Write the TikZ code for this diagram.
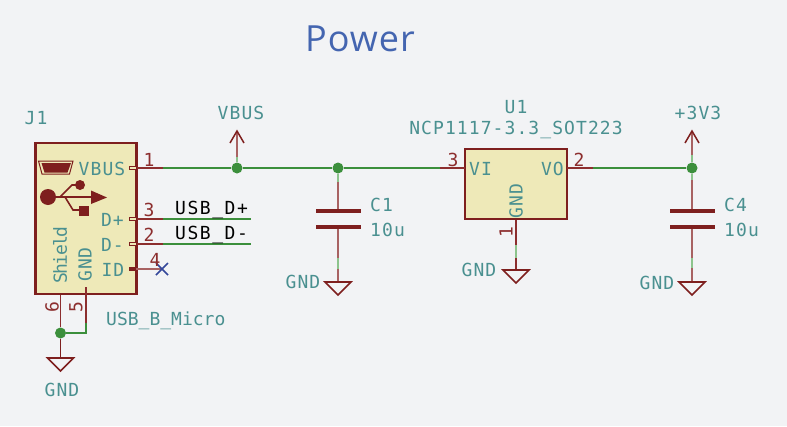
\documentclass[tikz,border=0pt]{standalone}
\usepackage{fontspec}
\setmainfont{DejaVu Sans Mono}
\newfontfamily\kifont[LetterSpace=6]{DejaVu Sans Mono}
\newfontfamily\titlefont[LetterSpace=3]{Open Sans}
\definecolor{bgc}{HTML}{F2F3F5}
\definecolor{partc}{HTML}{7E1F1E}
\definecolor{pinc}{HTML}{8C2E2E}
\definecolor{stemc}{HTML}{A86262}
\definecolor{fillc}{HTML}{EEE9B8}
\definecolor{wirec}{HTML}{3C8F3C}
\definecolor{lwirec}{HTML}{8CC48C}
\definecolor{textc}{HTML}{4A9090}
\definecolor{titlec}{HTML}{4465B0}
\definecolor{ncc}{HTML}{34479A}
\tikzset{
  lbl/.style={inner sep=0pt,text=textc,font=\fontsize{18}{19}\kifont},
  num/.style={inner sep=0pt,text=pinc,font=\fontsize{18}{19}\kifont},
  netl/.style={inner sep=0pt,text=black,font=\fontsize{18}{19}\kifont\addfontfeature{LetterSpace=8.5}},
  body/.style={draw=partc,line width=2.4pt,fill=fillc,inner sep=0pt},
  wire/.style={draw=wirec,line width=1.2pt},
  lwire/.style={draw=lwirec,line width=1.6pt},
  pinl/.style={draw=pinc,line width=1.3pt},
  stem/.style={draw=stemc,line width=1.6pt},
  powl/.style={draw=partc,line width=1.5pt},
  dot/.style={circle,fill=wirec,inner sep=0pt,minimum size=11pt},
  plate/.style={draw=partc,line width=4pt},
  gndt/.style={draw=partc,line width=1.6pt,line join=miter},
  pend/.style={draw=partc,line width=1pt,fill=fillc,inner sep=0pt,minimum width=7pt,minimum height=3.5pt}
}
\begin{document}
\begin{tikzpicture}[x=1pt,y=-1pt]
\useasboundingbox (0,0) rectangle (787,426);
\fill[bgc] (0,0) rectangle (787,426);
\node[inner sep=0pt,text=titlec,font=\fontsize{36}{37}\titlefont] (title) at (360,39) {Power};

% nets
\coordinate (vbusa) at (163,168);
\coordinate (vi) at (440,168);
\coordinate (vo) at (593,168);
\node[dot] (j1) at (237,168) {};
\node[dot] (j2) at (338,168) {};
\node[dot] (j3) at (692,168) {};
\node[dot] (j4) at (60.5,333) {};
\coordinate (dpa) at (163,219);
\coordinate (dpb) at (251,219);
\coordinate (dma) at (163,244);
\coordinate (dmb) at (251,244);
\draw[wire] (vbusa) -- (j1) -- (j2) -- (vi);
\draw[wire] (vo) -- (j3);
\draw[wire,line width=1.6pt] (dpa) -- (dpb);
\draw[wire,line width=1.6pt] (dma) -- (dmb);

% J1
\node[body,minimum width=101pt,minimum height=151pt] (J) at (86,218.5) {};
\draw[pinl,line width=1.4pt] (136,168) -- (vbusa);
\draw[pinl,line width=2pt] (136,219) -- (dpa);
\draw[pinl,line width=2pt] (136,244) -- (dma);
\coordinate (idp) at (136,269);
\coordinate (nc) at (162,269);
\draw[stem] (idp) -- (nc);
\node[pend] at (132.5,168) {};
\node[pend] at (132.5,219) {};
\node[pend] at (132.5,244) {};
\draw[partc,line width=3.2pt] (129,269) -- (136,269);
\draw[ncc,line width=1.5pt] (156,263) -- (168,275) (156,275) -- (168,263);
\node[lbl,anchor=east] (t1) at (125.5,168.5) {VBUS};
\node[lbl,anchor=east] (t2) at (124,219.5) {D+};
\node[lbl,anchor=east] (t3) at (124,244.5) {D-};
\node[lbl,anchor=east] (t4) at (124.5,269.5) {ID};
\node[lbl,rotate=90,font=\fontsize{18}{19}\kifont\addfontfeature{LetterSpace=-9}] (t5) at (60,255) {Shield};
\node[lbl,rotate=90] (t6) at (85,264.5) {GND};
\node[num] (n1) at (149,160) {1};
\node[num] (n2) at (149,210) {3};
\node[num] (n3) at (149,235) {2};
\node[num] (n4) at (155,260) {4};
\node[num,rotate=90] (n5) at (52,307) {6};
\node[num,rotate=90] (n6) at (76,307) {5};
\node[lbl] (jn) at (36,118) {J1};
\node[lbl,anchor=west,font=\fontsize{18}{19}\kifont\addfontfeature{LetterSpace=0}] (jv) at (106,321) {USB\_B\_Micro};
\node[netl,anchor=west] (ndp) at (175,210) {USB\_D+};
\node[netl,anchor=west] (ndm) at (175,235) {USB\_D-};
% USB icon
\fill[partc] (41.5,163) -- (71,163) -- (67.5,172.5) -- (44.5,172.5) -- cycle;
\draw[partc,line width=1pt] (38.5,161) -- (73,161) -- (69.5,174) -- (42,174) -- cycle;
\fill[partc] (48,197) circle (8pt);
\draw[partc,line width=1.5pt] (48,197) -- (93,197);
\fill[partc] (91,190.5) -- (107,197.5) -- (91,204) -- cycle;
\draw[partc,line width=1.6pt] (60,197) -- (72,185) -- (80,185);
\draw[partc,line width=1.6pt] (65,197) -- (73,210) -- (81,210);
\fill[partc] (80,185) circle (5pt);
\fill[partc] (79,206) rectangle (89,216);
% J1 lower pins
\coordinate (sh) at (60.5,295);
\coordinate (gp) at (86,287);
\coordinate (gk) at (86,323);
\coordinate (gc) at (86,333);
\coordinate (gnda) at (60.5,358);
\draw[pinl,line width=1.5pt] (sh) -- (j4);
\draw[pinl,line width=1.5pt] (gp) -- (gk);
\draw[wire] (gk) -- (gc) -- (j4);
\draw[powl] (j4) -- (gnda);
\draw[gndt] (gnda) ++(-13,0) -- ++(26,0) -- ++(-13,13) -- cycle;
\node[lbl] (g1) at (62,390) {GND};

% VBUS
\coordinate (vt) at (237,131);
\draw[stem] (j1) -- (vt);
\draw[lwire] (j1) -- (237,157);
\draw[powl] (230,143) -- (vt) -- (244,143);
\node[lbl] (vl) at (241,113) {VBUS};

% C1
\coordinate (c1a) at (338,211);
\coordinate (c1b) at (338,227);
\coordinate (c1g) at (338,282);
\draw[stem] (j2) -- (c1a);
\draw[lwire] (j2) -- (338,182);
\draw[stem] (c1b) -- (c1g);
\draw[lwire] (338,258) -- (338,269);
\draw[plate] (316,211) -- (361,211);
\draw[plate] (316,227) -- (361,227);
\draw[gndt] (c1g) ++(-13,0) -- ++(26,0) -- ++(-13,13) -- cycle;
\node[lbl,anchor=west] (c1n) at (370,205) {C1};
\node[lbl,anchor=west] (c1v) at (370,230) {10u};
\node[lbl,anchor=east] (g2) at (320.5,282) {GND};

% U1
\node[body,minimum width=102pt,minimum height=70pt] (U) at (516,184) {};
\coordinate (ub) at (516,270);
\draw[pinl] (vi) -- (465,168);
\draw[pinl] (567,168) -- (vo);
\draw[pinl] (516,220) -- (ub);
\draw[lwire] (516,245) -- (516,258);
\draw[gndt] (ub) ++(-13,0) -- ++(26,0) -- ++(-13,13) -- cycle;
\node[lbl,anchor=west] (vit) at (469,169) {VI};
\node[lbl,anchor=east] (vot) at (564,169) {VO};
\node[lbl,rotate=90] (ug) at (516,201) {GND};
\node[num] (u3) at (453,160) {3};
\node[num] (u2) at (579,160) {2};
\node[num,rotate=90] (u1) at (506,232) {1};
\node[lbl] (un) at (516,107) {U1};
\node[lbl] (uv) at (516,130) {NCP1117-3.3\_SOT223};
\node[lbl,anchor=east] (g3) at (496.5,269.5) {GND};

% +3V3
\coordinate (pt) at (692,131);
\draw[stem] (j3) -- (pt);
\draw[lwire] (j3) -- (692,155);
\draw[powl] (685,143) -- (pt) -- (699,143);
\node[lbl] (pl) at (698,113) {+3V3};

% C4
\coordinate (c4a) at (692,211);
\coordinate (c4b) at (692,227);
\coordinate (c4g) at (692,282);
\draw[stem] (j3) -- (c4a);
\draw[lwire] (j3) -- (692,180);
\draw[stem] (c4b) -- (c4g);
\draw[lwire] (692,258) -- (692,268);
\draw[plate] (670,211) -- (715,211);
\draw[plate] (670,227) -- (715,227);
\draw[gndt] (c4g) ++(-13,0) -- ++(26,0) -- ++(-13,13) -- cycle;
\node[lbl,anchor=west] (c4n) at (724,205) {C4};
\node[lbl,anchor=west] (c4v) at (724,230) {10u};
\node[lbl,anchor=east] (g4) at (674.5,283) {GND};
\end{tikzpicture}
\end{document}
